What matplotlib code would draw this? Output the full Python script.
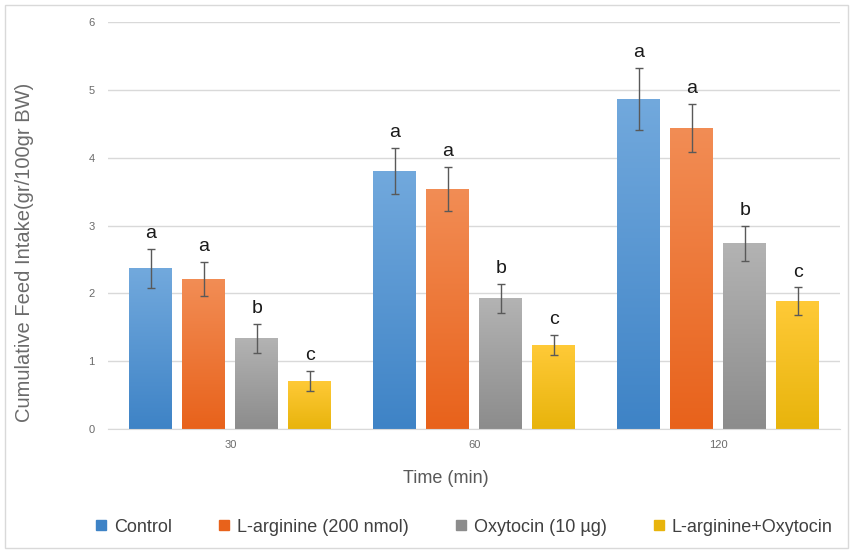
import numpy as np
import matplotlib
matplotlib.use('Agg')
import matplotlib.pyplot as plt
from matplotlib.patches import Rectangle
from matplotlib.lines import Line2D

# Data
times = ['30', '60', '120']
groups = ['Control', 'L-arginine (200 nmol)', 'Oxytocin (10 µg)', 'L-arginine+Oxytocin']
control = [2.37, 3.81, 4.87]
larg = [2.21, 3.54, 4.44]
oxy = [1.34, 1.93, 2.74]
combo = [0.71, 1.24, 1.89]
control_err = [0.29, 0.34, 0.46]
larg_err = [0.25, 0.32, 0.35]
oxy_err = [0.21, 0.21, 0.26]
combo_err = [0.15, 0.15, 0.20]
letters = [['a', 'a', 'a'], ['a', 'a', 'a'], ['b', 'b', 'b'], ['c', 'c', 'c']]

series = [control, larg, oxy, combo]
errors = [control_err, larg_err, oxy_err, combo_err]

# (top colour, bottom colour) for the gradient fills
colors = [('#72a9dd', '#3e83c6'),
          ('#f28d55', '#e8621b'),
          ('#b3b3b3', '#8c8c8c'),
          ('#ffca38', '#e8b40c')]

plt.rcParams['font.family'] = ['Liberation Sans', 'DejaVu Sans']

fig = plt.figure(figsize=(8.53, 5.51), dpi=100)
ax = fig.add_axes([0.127, 0.221, 0.858, 0.739])

# light frame around the whole chart
fig.patches.append(Rectangle((0.006, 0.006), 0.988, 0.985, transform=fig.transFigure,
                             fill=False, edgecolor='#d9d9d9', linewidth=1))

x = np.arange(len(times))
width = 0.176
step = 0.217
offsets = (np.arange(4) - 1.5) * step

ax.set_xlim(-0.5, len(times) - 0.5)
ax.set_ylim(0, 6)

for i, (vals, errs) in enumerate(zip(series, errors)):
    top_c, bot_c = colors[i]
    grad = np.linspace(0, 1, 256).reshape(-1, 1)
    cmap = matplotlib.colors.LinearSegmentedColormap.from_list('g%d' % i, [bot_c, top_c])
    bars = ax.bar(x + offsets[i], vals, width, color=top_c, zorder=2)
    for b in bars:
        im = ax.imshow(grad, cmap=cmap, origin='lower', aspect='auto',
                       extent=(b.get_x(), b.get_x() + b.get_width(), 0, b.get_height()),
                       zorder=2.1)
        im.set_clip_path(b)
    ax.errorbar(x + offsets[i], vals, yerr=errs, fmt='none', ecolor='#595959',
                elinewidth=1, capsize=3, capthick=1, zorder=3)
    for j, v in enumerate(vals):
        ax.text(x[j] + offsets[i], v + errs[j] + 0.1, letters[i][j], ha='center',
                va='bottom', fontsize=14, color='#1a1a1a', zorder=4)

ax.set_xlim(-0.5, len(times) - 0.5)
ax.set_ylim(0, 6)
ax.set_xticks(x)
ax.set_xticklabels(times)
ax.set_yticks(range(7))
ax.tick_params(axis='both', length=0, labelsize=8, labelcolor='#6b6b6b', pad=8)
ax.tick_params(axis='y', pad=10)
ax.yaxis.grid(True, color='#d9d9d9', linewidth=1, zorder=0)
ax.set_axisbelow(True)
for s in ['top', 'right', 'left']:
    ax.spines[s].set_visible(False)
ax.spines['bottom'].set_color('#d9d9d9')

ax.set_xlabel('Time (min)', fontsize=13, color='#595959')
ax.xaxis.set_label_coords((446 - 108) / 732, (429 - 478) / 407)
ax.xaxis.label.set_va('center')
ax.set_ylabel('Cumulative Feed Intake(gr/100gr BW)', fontsize=14.5, color='#6b6b6b')
ax.yaxis.set_label_coords((24 - 108) / 732, (429 - 252) / 407)
ax.yaxis.label.set_va('center')

handles = [Line2D([0], [0], marker='s', linestyle='none', markersize=7,
                  markerfacecolor=c[1], markeredgecolor=c[1]) for c in colors]
fig.legend(handles, groups, loc='center', bbox_to_anchor=(0.543, 0.043), ncol=4,
           frameon=False, fontsize=13, handlelength=0.8, handletextpad=0.3,
           columnspacing=2.5, labelcolor='#404040')

fig.savefig('out.png', dpi=100)
